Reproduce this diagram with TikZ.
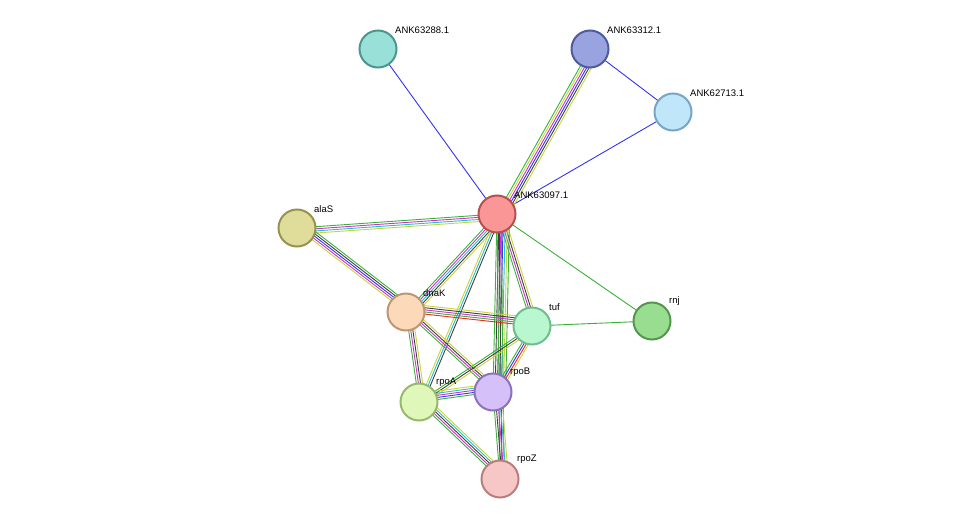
\documentclass[tikz,border=0pt]{standalone}
\usepackage{fontspec}
\setmainfont{Liberation Sans}
\usetikzlibrary{calc}
\definecolor{cnb}{rgb}{0.22,0.70,0.22}
\definecolor{ccooc}{rgb}{0.20,0.20,0.95}
\definecolor{cdb}{rgb}{0.15,0.75,0.80}
\definecolor{cexp}{rgb}{0.80,0.20,0.80}
\definecolor{ctxt}{rgb}{0.78,0.83,0.24}
\definecolor{ccoex}{rgb}{0.25,0.25,0.25}
\definecolor{cfus}{rgb}{0.95,0.15,0.15}
\definecolor{chom}{rgb}{0.60,0.60,0.90}
% draws one line per colour, side by side
\newcommand{\bundle}[3]{%
  \foreach \c [count=\i] in {#3} {
    \pgfmathsetmacro{\o}{(\i-1)*2.1}
    \draw[\c, line width=0.9pt] ($(#1)!\o pt!90:(#2)$) -- ($(#2)!\o pt!-90:(#1)$);
  }}
\tikzset{
  prot/.style={circle, minimum size=37pt, inner sep=0pt, line width=2pt},
  lbl/.style={anchor=south west, font=\fontsize{9.5}{11}\selectfont, inner sep=1pt},
}
\begin{document}
\begin{tikzpicture}[x=1pt,y=-1pt]
\useasboundingbox (0,0) rectangle (975,525);
% node centres
\coordinate (p288) at (378,49);
\coordinate (p312) at (590,49);
\coordinate (p713) at (673,112);
\coordinate (p097) at (497,214);
\coordinate (alaS) at (297,228);
\coordinate (dnaK) at (406,312);
\coordinate (tuf) at (532,326);
\coordinate (rnj) at (652,321);
\coordinate (rpoA) at (419,402);
\coordinate (rpoB) at (493,392);
\coordinate (rpoZ) at (500,479);
% edges
\bundle{p288}{p097}{ccooc}
\bundle{p312}{p713}{ccooc}
\bundle{p713}{p097}{ccooc}
\bundle{p097}{rnj}{cnb}
\bundle{tuf}{rnj}{cnb}
\bundle{p312}{p097}{cnb,ctxt,cexp,ccooc,ccoex,ctxt}
\bundle{p097}{alaS}{cnb,cexp,cdb,ctxt}
\bundle{p097}{dnaK}{cnb,cexp,cdb,ccoex,ctxt}
\bundle{p097}{tuf}{cnb,cexp,ccoex,ctxt}
\bundle{p097}{rpoB}{cnb,ccoex,cexp,ccooc,cdb,ctxt,cnb}
\bundle{p097}{rpoA}{ctxt,cdb,ccoex}
\bundle{p097}{rpoZ}{cnb,ccoex,cnb}
\bundle{alaS}{dnaK}{ctxt,cexp,ccooc,ccoex,cnb}
\bundle{dnaK}{tuf}{cfus,cnb,cexp,ccoex,ctxt}
\bundle{dnaK}{rpoA}{cnb,cexp,ccoex,ctxt}
\bundle{dnaK}{rpoB}{cnb,cexp,ccoex,ctxt}
\bundle{tuf}{rpoA}{cnb,ccoex,ctxt}
\bundle{tuf}{rpoB}{cnb,ccooc,cfus,ctxt}
\bundle{rpoA}{rpoB}{cnb,ccooc,cexp,cdb,ctxt}
\bundle{rpoA}{rpoZ}{cnb,cexp,ccoex,cdb,ctxt}
\bundle{rpoB}{rpoZ}{cnb,ccoex,cexp,cdb,ctxt}
% proteins
\node[prot, fill={rgb,255:red,153;green,224;blue,216}, draw={rgb,255:red,77;green,150;blue,142}] (n288) at (p288) {};
\node[prot, fill={rgb,255:red,153;green,163;blue,224}, draw={rgb,255:red,80;green,90;blue,160}] (n312) at (p312) {};
\node[prot, fill={rgb,255:red,192;green,230;blue,250}, draw={rgb,255:red,120;green,165;blue,195}] (n713) at (p713) {};
\node[prot, fill={rgb,255:red,250;green,150;blue,150}, draw={rgb,255:red,180;green,80;blue,80}] (n097) at (p097) {};
\node[prot, fill={rgb,255:red,224;green,220;blue,153}, draw={rgb,255:red,150;green,146;blue,80}] (nalaS) at (alaS) {};
\node[prot, fill={rgb,255:red,252;green,217;blue,185}, draw={rgb,255:red,190;green,150;blue,115}] (ndnaK) at (dnaK) {};
\node[prot, fill={rgb,255:red,184;green,247;blue,208}, draw={rgb,255:red,110;green,190;blue,140}] (ntuf) at (tuf) {};
\node[prot, fill={rgb,255:red,153;green,222;blue,144}, draw={rgb,255:red,85;green,150;blue,78}] (nrnj) at (rnj) {};
\node[prot, fill={rgb,255:red,223;green,247;blue,184}, draw={rgb,255:red,150;green,185;blue,110}] (nrpoA) at (rpoA) {};
\node[prot, fill={rgb,255:red,214;green,192;blue,250}, draw={rgb,255:red,140;green,115;blue,185}] (nrpoB) at (rpoB) {};
\node[prot, fill={rgb,255:red,247;green,198;blue,198}, draw={rgb,255:red,185;green,125;blue,125}] (nrpoZ) at (rpoZ) {};
% labels
\node[lbl] at ($(p288)+(16,-14)$) {ANK63288.1};
\node[lbl] at ($(p312)+(16,-14)$) {ANK63312.1};
\node[lbl] at ($(p713)+(16,-14)$) {ANK62713.1};
\node[lbl] at ($(p097)+(16,-14)$) {ANK63097.1};
\node[lbl] at ($(alaS)+(16,-14)$) {alaS};
\node[lbl] at ($(dnaK)+(16,-14)$) {dnaK};
\node[lbl] at ($(tuf)+(16,-14)$) {tuf};
\node[lbl] at ($(rnj)+(16,-14)$) {rnj};
\node[lbl] at ($(rpoA)+(16,-14)$) {rpoA};
\node[lbl] at ($(rpoB)+(16,-14)$) {rpoB};
\node[lbl] at ($(rpoZ)+(16,-14)$) {rpoZ};
\end{tikzpicture}
\end{document}
